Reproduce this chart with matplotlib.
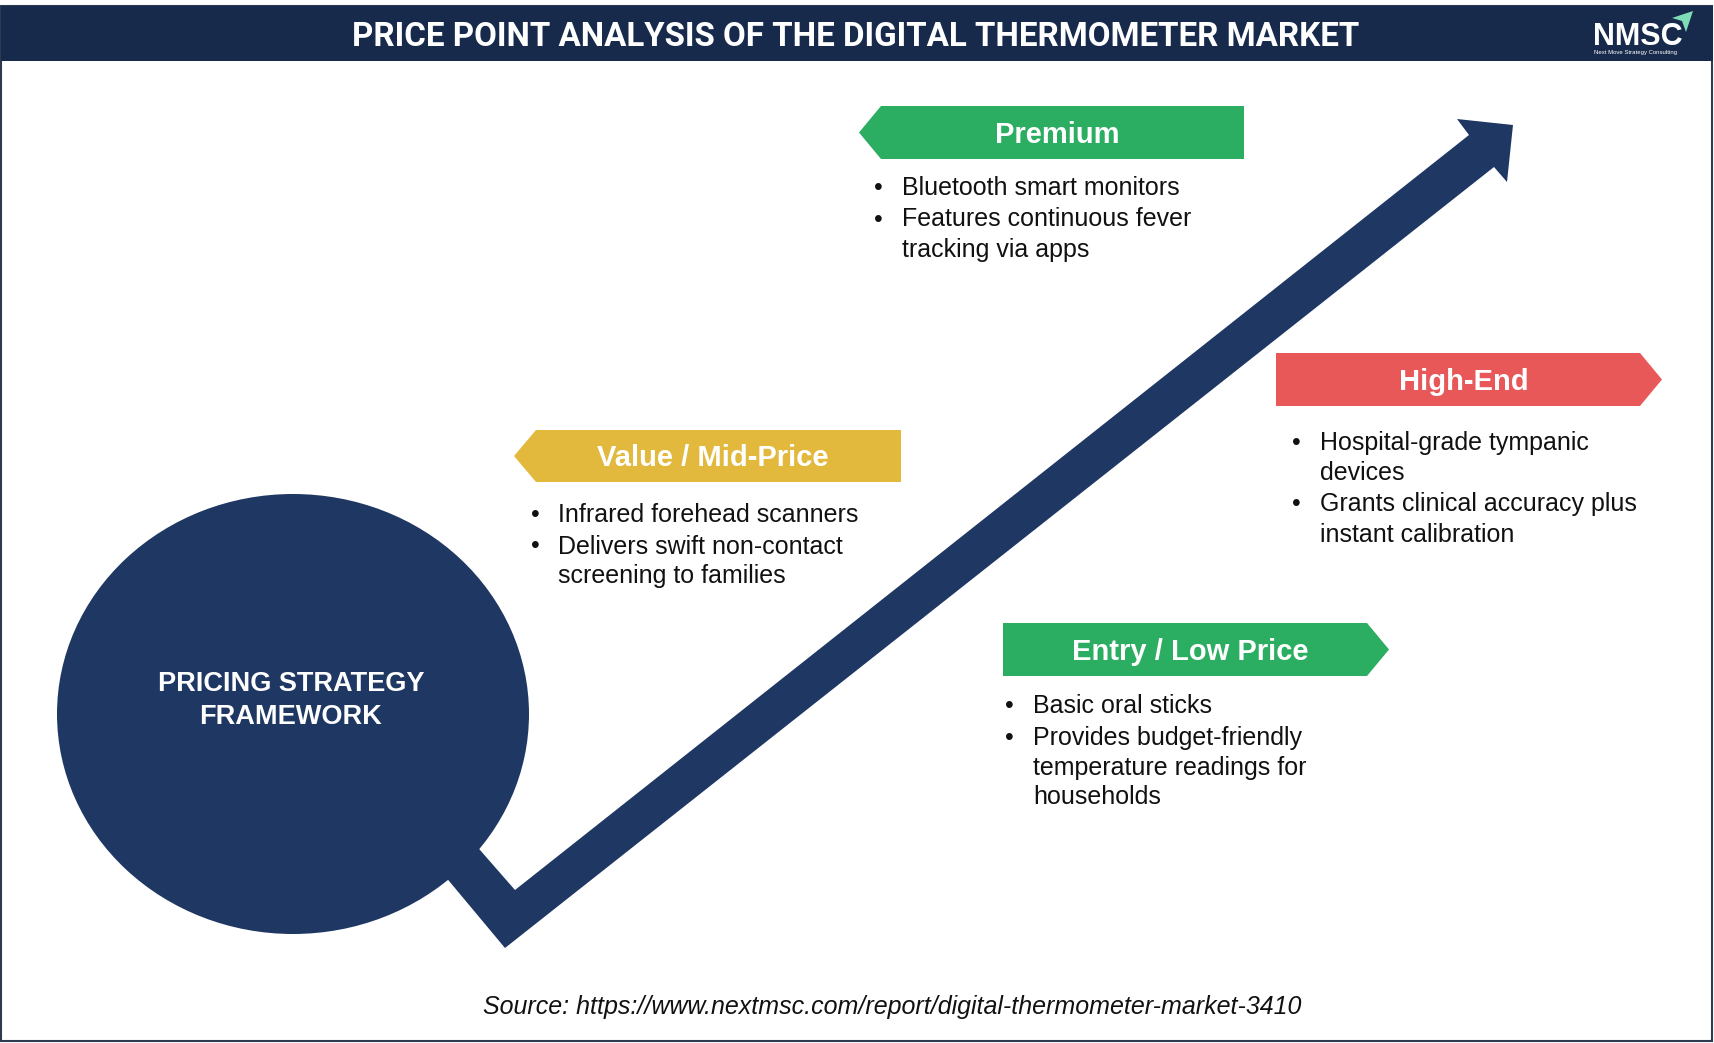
import matplotlib
matplotlib.use("Agg")
import matplotlib.pyplot as plt
from matplotlib.patches import Polygon, Ellipse, Rectangle

# content
title = "PRICE POINT ANALYSIS OF THE DIGITAL THERMOMETER MARKET"
center_label = ["PRICING STRATEGY", "FRAMEWORK"]
source = "Source: https://www.nextmsc.com/report/digital-thermometer-market-3410"

tiers = ["Premium", "Value / Mid-Price", "High-End", "Entry / Low Price"]
tier_bullets = [
    [["Bluetooth smart monitors"],
     ["Features continuous fever", "tracking via apps"]],
    [["Infrared forehead scanners"],
     ["Delivers swift non-contact", "screening to families"]],
    [["Hospital-grade tympanic", "devices"],
     ["Grants clinical accuracy plus", "instant calibration"]],
    [["Basic oral sticks"],
     ["Provides budget-friendly", "temperature readings for", "households"]],
]

# layout (pixel coords, y down)
W, H = 1714, 1043
tier_colors = ["#2BAE62", "#E2B83D", "#E85858", "#2BAE62"]
tier_point = ["left", "left", "right", "right"]
banner_box = [(859, 106, 1244, 159), (514, 430, 901, 482),
              (1276, 353, 1662, 406), (1003, 623, 1389, 676)]
bullet_x = [878, 535, 1296, 1009]
text_x = [902, 558, 1320, 1033]
first_line_y = [186, 513, 441, 704]
wrap_step, bullet_step = 30, 31.5
notch = 22

navy = "#1F3763"
bar_navy = "#172A4C"

fig = plt.figure(figsize=(W / 100, H / 100), dpi=100)
ax = fig.add_axes([0, 0, 1, 1])
ax.set_xlim(0, W)
ax.set_ylim(H, 0)
ax.axis("off")

# frame + title bar
ax.add_patch(Rectangle((1.5, 6), W - 3.5, H - 8, fill=False, ec="#2E3B4E", lw=1.5))
ax.add_patch(Rectangle((0.5, 6), W - 1.5, 55, color=bar_navy, lw=0))
ax.text(856, 46, title, color="white", fontsize=23.9, fontweight="bold",
        family="Roboto", ha="center", va="baseline")

# logo
ax.text(1593, 45, "NMSC", color="white", fontsize=22, fontweight="bold",
        family="Liberation Sans", ha="left", va="baseline")
ax.text(1594, 54, "Next Move Strategy Consulting", color="white", fontsize=4.3,
        family="Liberation Sans", ha="left", va="baseline")
ax.add_patch(Polygon([(1672, 18), (1693, 11), (1686, 32), (1682, 21)],
                     closed=True, color="#7EDDB6", lw=0))

# arrow: shaft direction and geometry
bottom = (505, 948)
inner = (515, 890)
up_base = (1469, 135)
low_base = (1494, 167)
arrow_pts = [
    (414, 839), (445, 810), inner, up_base, (1457, 119), (1513, 125),
    (1507, 182), low_base, bottom,
]
ax.add_patch(Polygon(arrow_pts, closed=True, color=navy, lw=0))

# circle
ax.add_patch(Ellipse((293, 714), 472, 440, color=navy, lw=0))
for i, line in enumerate(center_label):
    ax.text(291, 691 + i * 33, line, color="white", fontsize=19.5,
            fontweight="bold", family="Liberation Sans", ha="center", va="baseline")

# banners and bullets
for k, name in enumerate(tiers):
    x0, y0, x1, y1 = banner_box[k]
    ym = (y0 + y1) / 2
    if tier_point[k] == "left":
        pts = [(x0, ym), (x0 + notch, y0), (x1, y0), (x1, y1), (x0 + notch, y1)]
        cx = (x0 + x1) / 2 + notch / 4
    else:
        pts = [(x0, y0), (x1 - notch, y0), (x1, ym), (x1 - notch, y1), (x0, y1)]
        cx = (x0 + x1) / 2 - notch / 4
    ax.add_patch(Polygon(pts, closed=True, color=tier_colors[k], lw=0))
    ax.text(cx, ym + 10.5, name, color="white", fontsize=21, fontweight="bold",
            family="Liberation Sans", ha="center", va="baseline")

    y = first_line_y[k]
    for b, lines in enumerate(tier_bullets[k]):
        if b > 0:
            y += bullet_step
        ax.text(bullet_x[k], y + 9, "\u2022", color="#111111", fontsize=18,
                family="Liberation Sans", ha="center", va="baseline")
        for j, line in enumerate(lines):
            if j > 0:
                y += wrap_step
            ax.text(text_x[k], y + 9, line, color="#111111", fontsize=18,
                    family="Liberation Sans", ha="left", va="baseline")

ax.text(892, 1014, source, color="#111111", fontsize=18, style="italic",
        family="Liberation Sans", ha="center", va="baseline")

fig.savefig("out.png", dpi=100)
